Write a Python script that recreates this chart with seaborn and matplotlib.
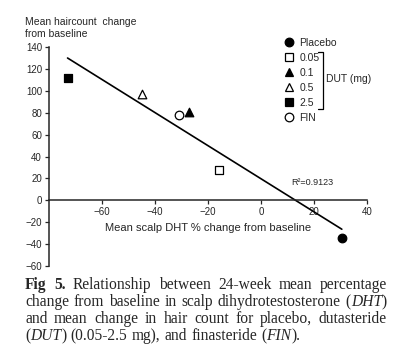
import re
import matplotlib
matplotlib.use("Agg")
import numpy as np
import seaborn as sns
import matplotlib.pyplot as plt
from matplotlib.lines import Line2D

# values
groups = ["Placebo", "0.05", "0.1", "0.5", "2.5", "FIN"]
dht_change = [30.5, -16, -27, -45, -73, -31]
hair_change = [-34, 28, 81, 97, 112, 78]
markers = ["o", "s", "^", "^", "s", "o"]
filled = [True, False, True, False, True, False]

x_ticks = [-60, -40, -20, 0, 20, 40]
y_ticks = [-60, -40, -20, 0, 20, 40, 60, 80, 100, 120, 140]

caption = [
    "*Fig* *5.* Relationship between 24-week mean percentage",
    "change from baseline in scalp dihydrotestosterone (_DHT_)",
    "and mean change in hair count for placebo, dutasteride",
    "(_DUT_) (0.05-2.5 mg), and finasteride (_FIN_).",
]

sns.set_style("ticks")
plt.rcParams["font.family"] = ["Liberation Sans", "DejaVu Sans"]

W, H = 400, 360
fig = plt.figure(figsize=(4, 3.6), dpi=100)
ax = fig.add_axes([49 / W, 1 - 266 / H, 318 / W, 219 / H])

# least squares line
sns.regplot(x=dht_change, y=hair_change, scatter=False, ci=None,
            color="black", line_kws={"lw": 1.2}, ax=ax)

for g, xv, yv, m, f in zip(groups, dht_change, hair_change, markers, filled):
    sns.scatterplot(x=[xv], y=[yv], marker=m, s=38,
                    facecolor="black" if f else "white", edgecolor="black",
                    linewidth=0.9, ax=ax, zorder=3)

ax.set_xlim(-80, 40)
ax.set_ylim(-60, 140)
ax.set_xticks(x_ticks)
ax.set_yticks(y_ticks)
ax.tick_params(labelsize=7, length=3, width=0.9, pad=2)
sns.despine(ax=ax)
ax.spines["bottom"].set_position(("data", 0))
for s in ["left", "bottom"]:
    ax.spines[s].set_linewidth(1.1)

ax.set_xlabel("Mean scalp DHT % change from baseline", fontsize=8, va="center")
ax.xaxis.set_label_coords(0.5, (266 - 228) / 219)
ax.set_ylabel("Mean haircount  change\nfrom baseline", fontsize=7.5,
              rotation=0, ha="left", va="bottom", linespacing=1.3)
ax.yaxis.set_label_coords((25 - 49) / 318, (266 - 39) / 219)

ax.text(11.3, 16.5, "R²=0.9123", fontsize=6.5, va="center")

# legend
handles = [Line2D([], [], ls="", marker=m, ms=6.2, mew=0.9, mec="black",
                  mfc="black" if f else "white")
           for m, f in zip(markers, filled)]
ax.legend(handles, groups, loc="upper left", bbox_to_anchor=(284 / W, 1 - 38 / H),
          bbox_transform=fig.transFigure, frameon=False, fontsize=7.5,
          handlelength=0.9, handletextpad=0.6, labelspacing=0.48, borderpad=0,
          borderaxespad=0)
fig.add_artist(Line2D(np.array([318, 323, 323, 318]) / W,
                      1 - np.array([52, 52, 109, 109]) / H, color="black", lw=0.9))
fig.text(326 / W, 1 - 79 / H, "DUT (mg)", fontsize=7.5, va="center")

# justified caption
serif = ["Liberation Serif", "DejaVu Serif"]
renderer = fig.canvas.get_renderer()
left, right, size = 25, 387, 11.2
baselines = [289, 306, 323, 340]
for i, line in enumerate(caption):
    words = []
    for w in line.split(" "):
        segs = []
        for part in re.split(r"(\*[^*]+\*|_[^_]+_)", w):
            if not part:
                continue
            if part.startswith("*"):
                segs.append((part[1:-1], {"fontweight": "bold"}))
            elif part.startswith("_"):
                segs.append((part[1:-1], {"fontstyle": "italic"}))
            else:
                segs.append((part, {}))
        words.append(segs)
    y = 1 - baselines[i] / H
    objs = []
    widths = []
    for segs in words:
        wo = []
        tot = 0
        for s, kw in segs:
            t = fig.text(0, y, s, fontsize=size, family=serif, va="baseline", **kw)
            bw = t.get_window_extent(renderer).width
            wo.append((t, bw))
            tot += bw
        objs.append(wo)
        widths.append(tot)
    if i < len(caption) - 1:
        gap = (right - left - sum(widths)) / (len(words) - 1)
    else:
        gap = 0.27 * size * 100 / 72
    x = left
    for wo in objs:
        for t, bw in wo:
            t.set_x(x / W)
            x += bw
        x += gap

fig.savefig("out.png", dpi=100)
